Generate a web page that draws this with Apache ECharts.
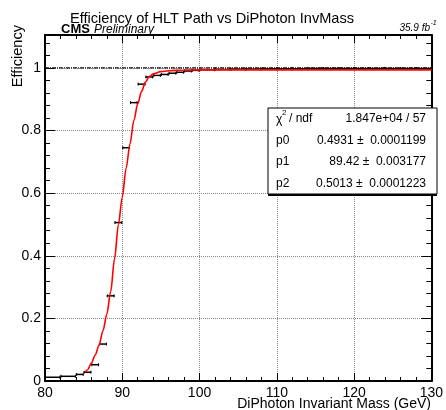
<!DOCTYPE html>
<html><head><meta charset="utf-8">
<script src="https://cdn.jsdelivr.net/npm/echarts@6/dist/echarts.min.js"></script>
<style>html,body{margin:0;padding:0;background:#fff}#c{width:446px;height:410px}</style>
</head><body><div id="c"></div>
<script>
// ---- data ----
const binLow  = [80, 82, 84, 85, 86, 87, 88, 89, 90, 91, 92, 93, 94, 95, 96, 97, 98, 99, 100, 102, 104, 106, 108, 110, 112, 114, 116, 118, 120, 122, 124, 126, 128];
const binHigh = [82, 84, 85, 86, 87, 88, 89, 90, 91, 92, 93, 94, 95, 96, 97, 98, 99, 100, 102, 104, 106, 108, 110, 112, 114, 116, 118, 120, 122, 124, 126, 128, 130];
const efficiency = [0.012, 0.015, 0.021, 0.028, 0.052, 0.118, 0.272, 0.506, 0.745, 0.889, 0.948, 0.971, 0.976, 0.979, 0.983, 0.986, 0.99, 0.992, 0.994, 0.995, 0.996, 0.996, 0.997, 0.997, 0.997, 0.998, 0.998, 0.998, 0.998, 0.998, 0.998, 0.998, 0.998];
const fitX = [85.2, 85.5, 86, 86.5, 87, 87.5, 88, 88.5, 89, 89.5, 90, 90.5, 91, 91.5, 92, 92.5, 93, 93.5, 94, 95, 96, 98, 100, 110, 120, 130];
const fitY = [0.028, 0.036, 0.057, 0.083, 0.115, 0.16, 0.213, 0.285, 0.39, 0.5, 0.587, 0.68, 0.757, 0.832, 0.885, 0.925, 0.955, 0.972, 0.981, 0.988, 0.991, 0.993, 0.9935, 0.9936, 0.9936, 0.9936];
const refLineX = [80, 130];
const refLineY = [1, 1];
const xTickLabels = ['80', '90', '100', '110', '120', '130'];
const yTickLabels = ['0', '0.2', '0.4', '0.6', '0.8', '1'];
const statLabels = ['p0', 'p1', 'p2'];
const statValues = ['0.4931 \u00b1  0.0001199', '89.42 \u00b1  0.003177', '0.5013 \u00b1  0.0001223'];
const chi2Text = '1.847e+04 / 57';

const FF = '"Liberation Sans", Arial, Helvetica, sans-serif';
const chart = echarts.init(document.getElementById('c'), null, {renderer: 'canvas'});

const binData = binLow.map((lo, i) => [lo, binHigh[i], efficiency[i]]);
const fitData = fitX.map((x, i) => [x, fitY[i]]);
const refData = refLineX.map((x, i) => [x, refLineY[i]]);

function baseX(pos) {
  return {
    type: 'value', min: 80, max: 130, interval: 10, position: pos,
    axisLine: {show: true, onZero: false, lineStyle: {color: '#000', width: 2}},
    axisTick: {show: true, inside: true, length: 8, lineStyle: {color: '#000', width: 1}},
    minorTick: {show: true, splitNumber: 5, length: 4, lineStyle: {color: '#000', width: 1}},
    axisLabel: {show: pos === 'bottom', color: '#000', fontSize: 14, fontFamily: FF, margin: 5,
      formatter: v => { const i = Math.round((v - 80) / 10); return xTickLabels[i] || ''; }},
    splitLine: {show: pos === 'bottom', lineStyle: {color: '#888', type: 'dotted', width: 1}}
  };
}
function baseY(pos) {
  return {
    type: 'value', min: 0, max: 1.105, interval: 0.2, position: pos,
    axisLine: {show: true, onZero: false, lineStyle: {color: '#000', width: 2}},
    axisTick: {show: true, inside: true, length: 10, lineStyle: {color: '#000', width: 1}},
    minorTick: {show: true, splitNumber: 5, length: 5, lineStyle: {color: '#000', width: 1}},
    axisLabel: {show: pos === 'left', color: '#000', fontSize: 14, fontFamily: FF, margin: 4, showMaxLabel: false,
      formatter: v => { const i = Math.round(v / 0.2); return (Math.abs(v - i * 0.2) < 1e-6) ? (yTickLabels[i] || '') : ''; }},
    splitLine: {show: pos === 'left', lineStyle: {color: '#888', type: 'dotted', width: 1}}
  };
}

const txt = (text, x, y, font, align, valign, extra) => Object.assign({
  type: 'text', z: 100,
  style: {text, x, y, font, fill: '#000', textAlign: align, align: align, textVerticalAlign: valign, verticalAlign: valign}
}, extra || {});

const boxX = 268, boxY = 108, boxW = 169, boxH = 86;
const rowY = [119, 140.5, 162, 184];
const statGraphics = [
  {type: 'rect', z: 90, shape: {x: boxX, y: boxY + 2, width: boxW, height: boxH}, style: {fill: '#000'}},
  {type: 'rect', z: 91, shape: {x: boxX, y: boxY, width: boxW, height: boxH}, style: {fill: '#fff', stroke: '#000', lineWidth: 1}},
  txt('\u03c7', 276, rowY[0] + 1, '12px ' + FF, 'left', 'middle'),
  txt('2', 282, rowY[0] - 6, '8px ' + FF, 'left', 'middle'),
  txt('/ ndf', 289, rowY[0], '12px ' + FF, 'left', 'middle'),
  txt(chi2Text, 426, rowY[0], '12px ' + FF, 'right', 'middle')
];
statLabels.forEach((l, i) => {
  statGraphics.push(txt(l, 276, rowY[i + 1], '12px ' + FF, 'left', 'middle'));
  statGraphics.push(txt(statValues[i], 426, rowY[i + 1], '12px ' + FF, 'right', 'middle'));
});

const option = {
  backgroundColor: '#fff',
  animation: false,
  grid: {left: 45, right: 9, top: 35, bottom: 29, containLabel: false},
  xAxis: [baseX('bottom'), baseX('top')],
  yAxis: [baseY('left'), baseY('right')],
  series: [
    {
      type: 'line', data: refData, showSymbol: false, silent: true, z: 3,
      lineStyle: {color: '#111', width: 1.2, type: [4, 1, 1, 1]}
    },
    {
      type: 'custom', z: 4, data: binData, encode: {x: [0, 1], y: 2},
      renderItem: (params, api) => {
        const lo = api.coord([api.value(0), api.value(2)]);
        const hi = api.coord([api.value(1), api.value(2)]);
        const st = {stroke: '#000', lineWidth: 1.5};
        return {type: 'group', children: [
          {type: 'line', shape: {x1: lo[0], y1: lo[1], x2: hi[0], y2: hi[1]}, style: st},
          {type: 'line', shape: {x1: lo[0] + 0.5, y1: lo[1] - 1.5, x2: lo[0] + 0.5, y2: lo[1] + 1.5}, style: {stroke: '#000', lineWidth: 1}},
          {type: 'line', shape: {x1: hi[0] - 0.5, y1: hi[1] - 1.5, x2: hi[0] - 0.5, y2: hi[1] + 1.5}, style: {stroke: '#000', lineWidth: 1}}
        ]};
      }
    },
    {
      type: 'line', data: fitData, showSymbol: false, smooth: 0.3, smoothMonotone: 'x', z: 5,
      lineStyle: {color: '#ff0000', width: 1.6}
    }
  ],
  graphic: [
    txt('Efficiency of HLT Path vs DiPhoton InvMass', 212, 19, '14.6px ' + FF, 'center', 'middle'),
    txt('CMS', 61, 35.5, 'bold 13px ' + FF, 'left', 'bottom'),
    txt('Preliminary', 94, 36, 'italic 12px ' + FF, 'left', 'bottom'),
    txt('35.9 fb', 430, 33, 'italic 10px ' + FF, 'right', 'bottom'),
    txt('-1', 430.5, 27, 'italic 7px ' + FF, 'left', 'bottom'),
    txt('DiPhoton Invariant Mass (GeV)', 431, 404, '14px ' + FF, 'right', 'middle'),
    {type: 'text', z: 100, x: 25, y: 25, rotation: Math.PI / 2,
     style: {text: 'Efficiency', x: 0, y: 0, font: '14.6px ' + FF, fill: '#000', textAlign: 'right', align: 'right', textVerticalAlign: 'bottom', verticalAlign: 'bottom'}}
  ].concat(statGraphics)
};
chart.setOption(option);
</script>
</body></html>
